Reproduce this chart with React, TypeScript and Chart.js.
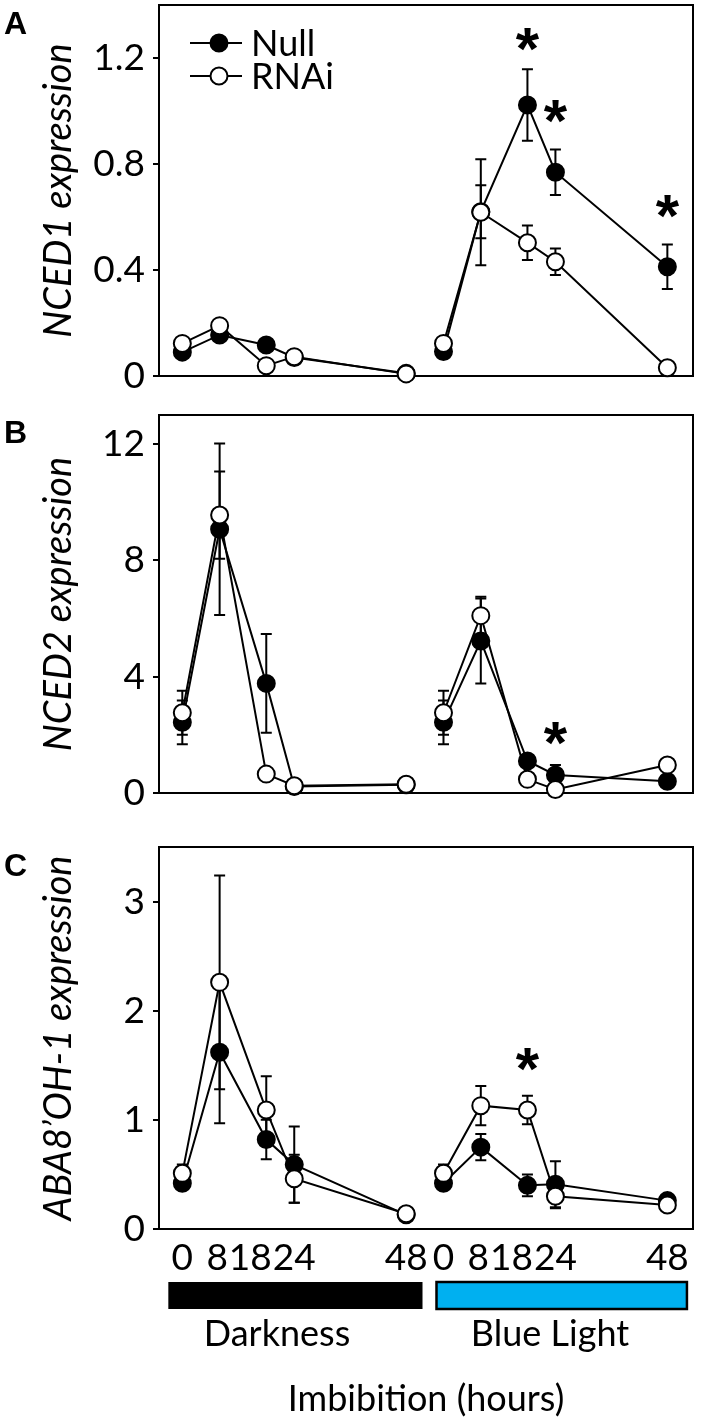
import React, { useEffect, useRef } from 'react';
import { Chart, registerables } from 'chart.js';

Chart.register(...registerables);

// ---------- data ----------
const hours = [0, 8, 18, 24, 48];
const BLUE_OFFSET = 56; // blue-light series shifted along the shared x axis
const xTickLabels = ['0', '8', '18', '24', '48', '0', '8', '18', '24', '48'];

// Panel A: NCED1
const yTicksA = [0, 0.4, 0.8, 1.2];
const yTickLabelsA = ['0', '0.4', '0.8', '1.2'];
const nced1NullDark = [0.09, 0.155, 0.117, 0.07, 0.01];
const nced1NullDarkErr = [0, 0, 0, 0, 0];
const nced1RnaiDark = [0.123, 0.19, 0.039, 0.073, 0.008];
const nced1RnaiDarkErr = [0, 0, 0, 0, 0];
const nced1NullBlue = [0.092, 0.62, 1.023, 0.769, 0.412];
const nced1NullBlueErr = [0, 0.1, 0.135, 0.086, 0.084];
const nced1RnaiBlue = [0.123, 0.618, 0.503, 0.431, 0.031];
const nced1RnaiBlueErr = [0, 0.2, 0.065, 0.05, 0];
const nced1Stars = [[18, 1.27], [24, 1.0], [48, 0.64]];

// Panel B: NCED2
const yTicksB = [0, 4, 8, 12];
const yTickLabelsB = ['0', '4', '8', '12'];
const nced2NullDark = [2.43, 9.07, 3.77, 0.22, 0.28];
const nced2NullDarkErr = [0.75, 2.95, 1.7, 0, 0];
const nced2RnaiDark = [2.76, 9.56, 0.65, 0.25, 0.3];
const nced2RnaiDarkErr = [0.76, 1.5, 0, 0, 0];
const nced2NullBlue = [2.43, 5.23, 1.1, 0.62, 0.4];
const nced2NullBlueErr = [0.75, 1.46, 0, 0.34, 0];
const nced2RnaiBlue = [2.76, 6.1, 0.47, 0.12, 0.96];
const nced2RnaiBlueErr = [0.76, 0.65, 0, 0, 0];
const nced2Stars = [[24, 2.06]];

// Panel C: ABA8'OH-1
const yTicksC = [0, 1, 2, 3];
const yTickLabelsC = ['0', '1', '2', '3'];
const abaNullDark = [0.42, 1.62, 0.82, 0.59, 0.13];
const abaNullDarkErr = [0, 0.65, 0.18, 0.35, 0];
const abaRnaiDark = [0.51, 2.26, 1.09, 0.46, 0.14];
const abaRnaiDarkErr = [0.08, 0.98, 0.31, 0.22, 0];
const abaNullBlue = [0.42, 0.75, 0.4, 0.41, 0.26];
const abaNullBlueErr = [0, 0.12, 0.1, 0.21, 0.03];
const abaRnaiBlue = [0.51, 1.13, 1.09, 0.3, 0.22];
const abaRnaiBlueErr = [0.08, 0.18, 0.13, 0.11, 0];
const abaStars = [[18, 1.55]];

const seriesNames = ['Null', 'RNAi'];
const conditionNames = ['Darkness', 'Blue Light'];
const xAxisTitle = 'Imbibition (hours)';

// ---------- styling / layout ----------
const FONT = 'Lato, "Open Sans", sans-serif';
const W = 702;
const PLOT_LEFT = 159;
const PLOT_RIGHT = 693;
const X_MIN = -5;
const X_MAX = 109.5;

type Panel = {
  letter: string;
  title: string;
  yMax: number;
  yTicks: number[];
  yTickLabels: string[];
  nullDark: number[]; nullDarkErr: number[];
  rnaiDark: number[]; rnaiDarkErr: number[];
  nullBlue: number[]; nullBlueErr: number[];
  rnaiBlue: number[]; rnaiBlueErr: number[];
  stars: number[][];
  canvasTop: number; canvasHeight: number; plotTop: number; plotBottom: number;
  letterBaseline: number;
  legend: boolean; xAxis: boolean;
};

const panels: Panel[] = [
  {
    letter: 'A', title: 'NCED1 expression', yMax: 1.4, yTicks: yTicksA, yTickLabels: yTickLabelsA,
    nullDark: nced1NullDark, nullDarkErr: nced1NullDarkErr, rnaiDark: nced1RnaiDark, rnaiDarkErr: nced1RnaiDarkErr,
    nullBlue: nced1NullBlue, nullBlueErr: nced1NullBlueErr, rnaiBlue: nced1RnaiBlue, rnaiBlueErr: nced1RnaiBlueErr,
    stars: nced1Stars, canvasTop: 0, canvasHeight: 400, plotTop: 5, plotBottom: 376, letterBaseline: 34,
    legend: true, xAxis: false,
  },
  {
    letter: 'B', title: 'NCED2 expression', yMax: 13, yTicks: yTicksB, yTickLabels: yTickLabelsB,
    nullDark: nced2NullDark, nullDarkErr: nced2NullDarkErr, rnaiDark: nced2RnaiDark, rnaiDarkErr: nced2RnaiDarkErr,
    nullBlue: nced2NullBlue, nullBlueErr: nced2NullBlueErr, rnaiBlue: nced2RnaiBlue, rnaiBlueErr: nced2RnaiBlueErr,
    stars: nced2Stars, canvasTop: 400, canvasHeight: 420, plotTop: 415, plotBottom: 793, letterBaseline: 443,
    legend: false, xAxis: false,
  },
  {
    letter: 'C', title: 'ABA8\u2019OH-1 expression', yMax: 3.5, yTicks: yTicksC, yTickLabels: yTickLabelsC,
    nullDark: abaNullDark, nullDarkErr: abaNullDarkErr, rnaiDark: abaRnaiDark, rnaiDarkErr: abaRnaiDarkErr,
    nullBlue: abaNullBlue, nullBlueErr: abaNullBlueErr, rnaiBlue: abaRnaiBlue, rnaiBlueErr: abaRnaiBlueErr,
    stars: abaStars, canvasTop: 820, canvasHeight: 605, plotTop: 847, plotBottom: 1229, letterBaseline: 876,
    legend: false, xAxis: true,
  },
];

function points(dark: number[], blue: number[]) {
  const pts: { x: number; y: number | null }[] = hours.map((h, i) => ({ x: h, y: dark[i] }));
  pts.push({ x: 52, y: null });
  hours.forEach((h, i) => pts.push({ x: h + BLUE_OFFSET, y: blue[i] }));
  return pts;
}
function errs(dark: number[], blue: number[]) {
  return [...dark, 0, ...blue];
}

function makeChart(canvas: HTMLCanvasElement, p: Panel) {
  const nullPts = points(p.nullDark, p.nullBlue);
  const rnaiPts = points(p.rnaiDark, p.rnaiBlue);
  const errSets = [errs(p.nullDarkErr, p.nullBlueErr), errs(p.rnaiDarkErr, p.rnaiBlueErr)];
  const ptSets = [nullPts, rnaiPts];
  const off = p.canvasTop;

  const plugin = {
    id: 'decor' + p.letter,
    beforeDatasetsDraw(chart: any) {
      const ctx = chart.ctx;
      const a = chart.chartArea;
      const xs = chart.scales.x;
      const ys = chart.scales.y;
      ctx.save();
      ctx.strokeStyle = '#000';
      ctx.lineWidth = 2;
      ctx.strokeRect(a.left, a.top, a.right - a.left, a.bottom - a.top);
      // error bars
      ptSets.forEach((pts, si) => {
        pts.forEach((pt, i) => {
          const e = errSets[si][i];
          if (pt.y == null || !e) return;
          const x = xs.getPixelForValue(pt.x);
          const y1 = ys.getPixelForValue(pt.y + e);
          const y2 = ys.getPixelForValue(pt.y - e);
          ctx.beginPath();
          ctx.moveTo(x, y1); ctx.lineTo(x, y2);
          ctx.moveTo(x - 5.5, y1); ctx.lineTo(x + 5.5, y1);
          ctx.moveTo(x - 5.5, y2); ctx.lineTo(x + 5.5, y2);
          ctx.stroke();
        });
      });
      ctx.restore();
    },
    afterDatasetsDraw(chart: any) {
      const ctx = chart.ctx;
      const a = chart.chartArea;
      const xs = chart.scales.x;
      const ys = chart.scales.y;
      ctx.save();
      ctx.fillStyle = '#000';
      // significance stars
      ctx.font = `bold 60px "Liberation Sans", Arial, sans-serif`;
      ctx.textAlign = 'center';
      ctx.textBaseline = 'alphabetic';
      const m = ctx.measureText('*');
      p.stars.forEach(([h, v]) => {
        const x = xs.getPixelForValue(h + BLUE_OFFSET);
        const cy = ys.getPixelForValue(v);
        const base = cy - (m.actualBoundingBoxDescent - m.actualBoundingBoxAscent) / 2;
        ctx.fillText('*', x, base);
      });
      // panel letter
      ctx.font = `bold 32px "Liberation Sans", Arial, sans-serif`;
      ctx.textAlign = 'left';
      ctx.fillText(p.letter, 4, p.letterBaseline - off);
      // legend
      if (p.legend) {
        const rows = [a.top + 38, a.top + 71];
        ctx.font = `36px ${FONT}`;
        rows.forEach((ry, i) => {
          ctx.strokeStyle = '#000';
          ctx.lineWidth = 2;
          ctx.beginPath();
          ctx.moveTo(a.left + 31, ry); ctx.lineTo(a.left + 83, ry);
          ctx.stroke();
          ctx.beginPath();
          ctx.arc(a.left + 60, ry, 8.5, 0, Math.PI * 2);
          ctx.fillStyle = i === 0 ? '#000' : '#fff';
          ctx.fill();
          ctx.stroke();
          ctx.fillStyle = '#000';
          ctx.textBaseline = 'middle';
          ctx.fillText(seriesNames[i], a.left + 92, ry + 1);
        });
      }
      // x axis labels, condition bars and titles
      if (p.xAxis) {
        ctx.font = `37px ${FONT}`;
        ctx.textAlign = 'center';
        ctx.textBaseline = 'alphabetic';
        const tickHours = [...hours, ...hours.map((h) => h + BLUE_OFFSET)];
        const items = tickHours.map((h, i) => ({
          t: xTickLabels[i],
          cx: xs.getPixelForValue(h),
          w: ctx.measureText(xTickLabels[i]).width,
        }));
        for (let i = items.length - 2; i >= 0; i--) {
          const ov = items[i].cx + items[i].w / 2 + 1 - (items[i + 1].cx - items[i + 1].w / 2);
          if (ov > 0) items[i].cx -= ov;
        }
        const labelBase = 1270 - off;
        items.forEach((it) => ctx.fillText(it.t, it.cx, labelBase));
        const barTop = 1282 - off;
        const barH = 27;
        const dx0 = xs.getPixelForValue(-3);
        const dx1 = xs.getPixelForValue(51.5);
        ctx.fillStyle = '#000';
        ctx.fillRect(dx0, barTop, dx1 - dx0, barH);
        const bx0 = xs.getPixelForValue(54.5);
        const bx1 = xs.getPixelForValue(108.2);
        ctx.fillStyle = '#00B0F0';
        ctx.fillRect(bx0, barTop, bx1 - bx0, barH);
        ctx.strokeStyle = '#000';
        ctx.lineWidth = 2.5;
        ctx.strokeRect(bx0, barTop, bx1 - bx0, barH);
        ctx.fillStyle = '#000';
        ctx.font = `36px ${FONT}`;
        ctx.fillText(conditionNames[0], 277, 1346 - off);
        ctx.fillText(conditionNames[1], 550, 1346 - off);
        ctx.fillText(xAxisTitle, (a.left + a.right) / 2, 1411 - off);
      }
      ctx.restore();
    },
  };

  const ds = (label: string, data: any, fill: string, order: number) => ({
    label,
    data,
    borderColor: '#000',
    borderWidth: 2,
    backgroundColor: fill,
    pointBackgroundColor: fill,
    pointBorderColor: '#000',
    pointBorderWidth: 2,
    pointRadius: 8.5,
    pointHoverRadius: 8.5,
    spanGaps: false,
    tension: 0,
    clip: false as any,
    order,
  });

  return new Chart(canvas, {
    type: 'line',
    data: {
      datasets: [ds(seriesNames[0], nullPts, '#000', 2), ds(seriesNames[1], rnaiPts, '#fff', 1)],
    },
    plugins: [plugin],
    options: {
      responsive: false,
      animation: false,
      devicePixelRatio: 1,
      events: [],
      layout: {
        autoPadding: false,
        padding: {
          left: 0,
          right: W - PLOT_RIGHT,
          top: p.plotTop - p.canvasTop,
          bottom: p.canvasTop + p.canvasHeight - p.plotBottom,
        },
      },
      plugins: { legend: { display: false }, tooltip: { enabled: false } },
      scales: {
        x: {
          type: 'linear',
          display: false,
          min: X_MIN,
          max: X_MAX,
        },
        y: {
          type: 'linear',
          min: 0,
          max: p.yMax,
          afterBuildTicks: (s: any) => {
            s.ticks = p.yTicks.map((v) => ({ value: v }));
          },
          afterFit: (s: any) => {
            s.width = PLOT_LEFT;
            s.paddingTop = 0;
            s.paddingBottom = 0;
          },
          ticks: {
            color: '#000',
            font: { family: FONT, size: 37 },
            padding: 8,
            autoSkip: false,
            callback: (v: any) => {
              const i = p.yTicks.indexOf(Number(v));
              return i >= 0 ? p.yTickLabels[i] : '';
            },
          },
          grid: {
            drawOnChartArea: false,
            drawTicks: true,
            tickLength: 6,
            color: '#000',
            lineWidth: 2,
          },
          border: { display: false },
          title: {
            display: true,
            text: p.title,
            color: '#000',
            font: { family: FONT, size: 38, style: 'italic' },
            padding: { top: 36, bottom: 0 },
          },
        },
      },
    } as any,
  });
}

function PanelCanvas({ p }: { p: Panel }) {
  const ref = useRef<HTMLCanvasElement | null>(null);
  useEffect(() => {
    if (!ref.current) return;
    const c = makeChart(ref.current, p);
    return () => c.destroy();
  }, [p]);
  return (
    <canvas
      ref={ref}
      width={W}
      height={p.canvasHeight}
      style={{ position: 'absolute', left: 0, top: p.canvasTop, width: W, height: p.canvasHeight, display: 'block' }}
    />
  );
}

export default function App() {
  return (
    <div style={{ position: 'absolute', left: 0, top: 0, width: W, height: 1425, background: '#fff' }}>
      {panels.map((p) => (
        <PanelCanvas key={p.letter} p={p} />
      ))}
    </div>
  );
}
